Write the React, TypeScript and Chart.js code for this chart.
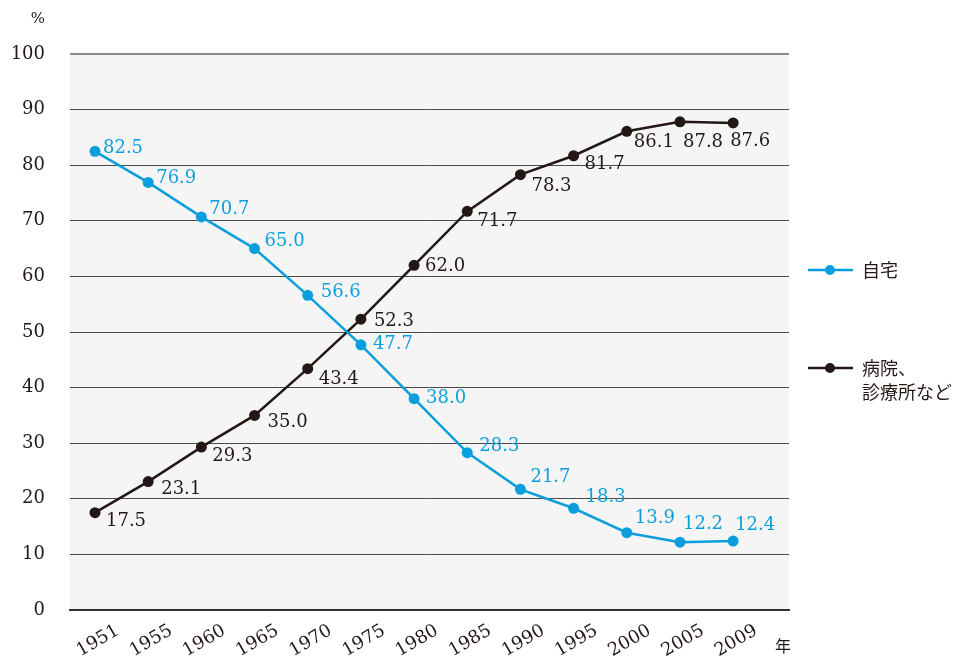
import React, { useEffect, useRef } from "react";
import { Chart, registerables } from "chart.js";

Chart.register(...registerables);

const years = ["1951", "1955", "1960", "1965", "1970", "1975", "1980", "1985", "1990", "1995", "2000", "2005", "2009"];
const homeValues = [82.5, 76.9, 70.7, 65.0, 56.6, 47.7, 38.0, 28.3, 21.7, 18.3, 13.9, 12.2, 12.4];
const hospitalValues = [17.5, 23.1, 29.3, 35.0, 43.4, 52.3, 62.0, 71.7, 78.3, 81.7, 86.1, 87.8, 87.6];
const seriesNames = ["自宅", "病院、\n診療所など"];
const yTicks = [0, 10, 20, 30, 40, 50, 60, 70, 80, 90, 100];

const BLUE = "#0a9fdc";
const DARK = "#231815";
const SERIF = "'DejaVu Serif', serif";
const SANS = "'Noto Sans CJK JP', 'Noto Sans', sans-serif";

// label offsets (dx, dy) relative to each point
const homeLabelOffsets = [[8, -3], [8, -4], [8, -8], [10, -7], [13, -3], [12, 0], [12, 0], [12, -6], [10, -12], [12, -11], [8, -14], [3, -18], [2, -16]];
const hospLabelOffsets = [[11, 9], [13, 8], [11, 9], [13, 7], [11, 11], [13, 2], [11, 1], [10, 10], [11, 12], [11, 9], [7, 11], [3, 20], [-3, 18]];

const overlayPlugin = {
  id: "overlay",
  beforeDraw(chart: any) {
    const { ctx, chartArea } = chart;
    ctx.save();
    ctx.fillStyle = "#f5f5f5";
    ctx.fillRect(chartArea.left, chartArea.top, chartArea.right - chartArea.left, chartArea.bottom - chartArea.top);
    ctx.restore();
  },
  afterDraw(chart: any) {
    const { ctx, chartArea } = chart;
    const xs = chart.scales.x;
    const ys = chart.scales.y;
    ctx.save();
    // data labels
    ctx.font = `18px ${SERIF}`;
    ctx.textBaseline = "middle";
    ctx.textAlign = "left";
    const drawLabels = (vals: number[], offs: number[][], color: string) => {
      ctx.fillStyle = color;
      vals.forEach((v, i) => {
        const px = xs.getPixelForValue(i);
        const py = ys.getPixelForValue(v);
        ctx.fillText(v.toFixed(1), px + offs[i][0], py + offs[i][1]);
      });
    };
    drawLabels(homeValues, homeLabelOffsets, BLUE);
    drawLabels(hospitalValues, hospLabelOffsets, DARK);

    // x tick labels rotated
    ctx.fillStyle = DARK;
    ctx.textAlign = "center";
    ctx.font = `18px ${SERIF}`;
    years.forEach((y, i) => {
      const px = xs.getPixelForValue(i);
      ctx.save();
      ctx.translate(px + 3, chartArea.bottom + 31);
      ctx.rotate((-30 * Math.PI) / 180);
      ctx.fillText(y, 0, 0);
      ctx.restore();
    });
    ctx.font = `16px ${SANS}`;
    ctx.textAlign = "left";
    ctx.fillText("年", 775, 646);

    // % unit
    ctx.font = `15px ${SERIF}`;
    ctx.textAlign = "right";
    ctx.fillText("%", 45, 19);

    // legend
    const legendItems = [
      { color: BLUE, y: 270 },
      { color: DARK, y: 368 },
    ];
    legendItems.forEach((it, k) => {
      ctx.strokeStyle = it.color;
      ctx.lineWidth = 2.5;
      ctx.beginPath();
      ctx.moveTo(808, it.y);
      ctx.lineTo(853, it.y);
      ctx.stroke();
      ctx.fillStyle = it.color;
      ctx.beginPath();
      ctx.arc(830, it.y, 5, 0, Math.PI * 2);
      ctx.fill();
      ctx.fillStyle = DARK;
      ctx.font = `18px ${SANS}`;
      ctx.textAlign = "left";
      const lines = seriesNames[k].split("\n");
      lines.forEach((ln, j) => ctx.fillText(ln, 862, it.y + j * 24));
    });
    ctx.restore();
  },
};

export default function App() {
  const ref = useRef<HTMLCanvasElement>(null);
  useEffect(() => {
    if (!ref.current) return;
    const chart = new Chart(ref.current, {
      type: "line",
      data: {
        datasets: [
          {
            label: seriesNames[0],
            data: homeValues.map((v, i) => ({ x: i, y: v })),
            borderColor: BLUE,
            backgroundColor: BLUE,
            borderWidth: 2.5,
            pointRadius: 5.5,
            pointBackgroundColor: BLUE,
            pointBorderWidth: 0,
            tension: 0,
          },
          {
            label: seriesNames[1],
            data: hospitalValues.map((v, i) => ({ x: i, y: v })),
            borderColor: DARK,
            backgroundColor: DARK,
            borderWidth: 2.5,
            pointRadius: 5.5,
            pointBackgroundColor: DARK,
            pointBorderWidth: 0,
            tension: 0,
          },
        ],
      },
      options: {
        animation: false,
        responsive: false,
        maintainAspectRatio: false,
        layout: { padding: { top: 54, right: 174, left: 0, bottom: 0 } },
        plugins: { legend: { display: false }, tooltip: { enabled: false } },
        scales: {
          x: {
            type: "linear",
            min: -0.47,
            max: 13.05,
            ticks: { display: false },
            grid: { display: false },
            border: { display: true, color: "#2e2a29", width: 1.8 },
            afterFit: (s: any) => {
              s.height = 52;
            },
          },
          y: {
            min: 0,
            max: 100,
            afterBuildTicks: (s: any) => {
              s.ticks = yTicks.map((v) => ({ value: v }));
            },
            ticks: {
              padding: 25,
              color: DARK,
              font: { family: "DejaVu Serif", size: 18 },
            },
            grid: {
              drawTicks: false,
              tickLength: 0,
              color: (c: any) => (c.tick && c.tick.value === 100 ? "#8a8a8a" : "#4a4a4a"),
              lineWidth: (c: any) => (c.tick && c.tick.value === 100 ? 2 : 1),
            },
            border: { display: false },
            afterFit: (s: any) => {
              s.width = 70;
            },
          },
        },
      },
      plugins: [overlayPlugin],
    } as any);
    return () => chart.destroy();
  }, []);
  return (
    <div style={{ position: "fixed", left: 0, top: 0, width: 963, height: 662, background: "#fff" }}>
      <canvas ref={ref} width={963} height={662} style={{ width: 963, height: 662 }} />
    </div>
  );
}
